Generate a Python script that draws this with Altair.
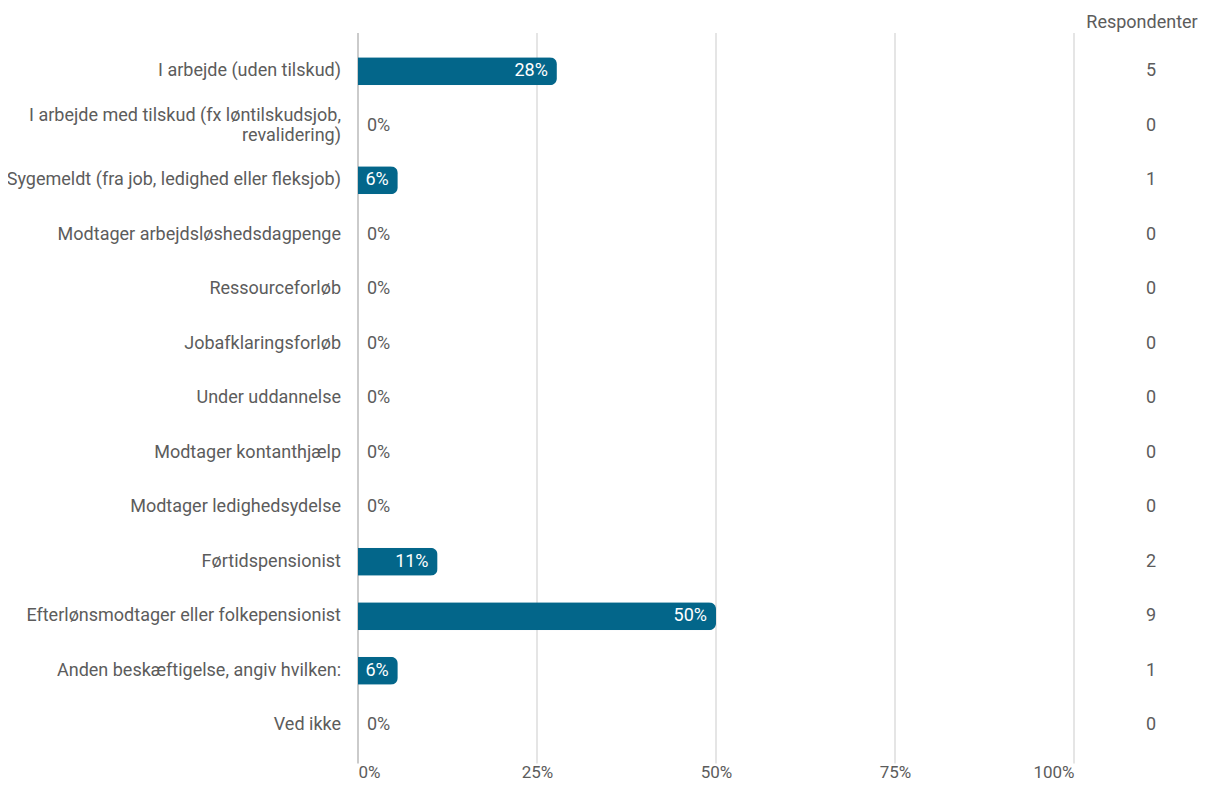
import altair as alt
import pandas as pd

categories = [
    "I arbejde (uden tilskud)",
    "I arbejde med tilskud (fx løntilskudsjob,|revalidering)",
    "Sygemeldt (fra job, ledighed eller fleksjob)",
    "Modtager arbejdsløshedsdagpenge",
    "Ressourceforløb",
    "Jobafklaringsforløb",
    "Under uddannelse",
    "Modtager kontanthjælp",
    "Modtager ledighedsydelse",
    "Førtidspensionist",
    "Efterlønsmodtager eller folkepensionist",
    "Anden beskæftigelse, angiv hvilken:",
    "Ved ikke",
]
respondents = [5, 0, 1, 0, 0, 0, 0, 0, 0, 2, 9, 1, 0]
total = sum(respondents)
grid_ticks = [0, 0.25, 0.5, 0.75, 1.0]

df = pd.DataFrame({
    "cat": categories,
    "n": respondents,
    "pct": [r / total for r in respondents],
})
df["label"] = df["pct"].map(lambda v: f"{round(v*100):.0f}%")
grid_df = pd.DataFrame({"g": grid_ticks})

W, H = 716, 708.5
FONT = "Roboto"
GREY = "#5c5c5c"
BAR = "#03668a"

x_scale = alt.Scale(domain=[0, 1])
y_enc = alt.Y("cat:N", sort=categories, title=None,
              scale=alt.Scale(paddingInner=0, paddingOuter=0),
              axis=None)

grid = alt.Chart(grid_df).mark_rule(strokeWidth=1.2).encode(
    x=alt.X("g:Q", scale=x_scale),
    y=alt.value(-11), y2=alt.value(H + 11),
    color=alt.condition("datum.g == 0", alt.value("#a8a8a8"), alt.value("#d4d4d4")),
)

bars = alt.Chart(df).mark_bar(color=BAR, size=28, cornerRadiusEnd=7).encode(
    x=alt.X("pct:Q", scale=x_scale, title=None,
            axis=alt.Axis(values=grid_ticks, format=".0%", grid=False, domain=False,
                          ticks=False, labelPadding=12, labelFontSize=17,
                          labelColor=GREY, labelFont=FONT)),
    y=y_enc,
)

ylabels = alt.Chart(df).transform_filter("indexof(datum.cat, '|') < 0").mark_text(
    align="right", fontSize=18, color=GREY, font=FONT, baseline="middle",
).encode(x=alt.value(-17), y=y_enc, text="cat:N")

ylabels2 = alt.Chart(df).transform_filter("indexof(datum.cat, '|') >= 0").mark_text(
    align="right", fontSize=18, color=GREY, font=FONT, baseline="middle",
    lineBreak="|", lineHeight=20, dy=-10,
).encode(x=alt.value(-17), y=y_enc, text="cat:N")

lab_in = alt.Chart(df).transform_filter("datum.n > 0").mark_text(
    align="right", dx=-9, fontSize=18, color="white", font=FONT, baseline="middle"
).encode(x=alt.X("pct:Q", scale=x_scale), y=y_enc, text="label:N")

lab_zero = alt.Chart(df).transform_filter("datum.n == 0").mark_text(
    align="left", dx=9, fontSize=18, color=GREY, font=FONT, baseline="middle"
).encode(x=alt.X("pct:Q", scale=x_scale), y=y_enc, text="label:N")

resp = alt.Chart(df).mark_text(
    align="center", fontSize=18, color=GREY, font=FONT, baseline="middle"
).encode(x=alt.value(793), y=y_enc, text="n:Q")

header = alt.Chart(pd.DataFrame({"t": ["Respondenter"]})).mark_text(
    align="center", fontSize=18, color=GREY, font=FONT, baseline="middle"
).encode(x=alt.value(784), y=alt.value(-21), text="t:N")

chart = alt.layer(grid, bars, ylabels, ylabels2, lab_in, lab_zero, resp, header).properties(
    width=W, height=H,
    autosize=alt.AutoSizeParams(type="none"),
    padding={"left": 350, "top": 36, "right": 127, "bottom": 28},
).configure(background="white").configure_view(stroke=None)

chart.save("out.html", embed_options={"renderer": "svg", "actions": False})
